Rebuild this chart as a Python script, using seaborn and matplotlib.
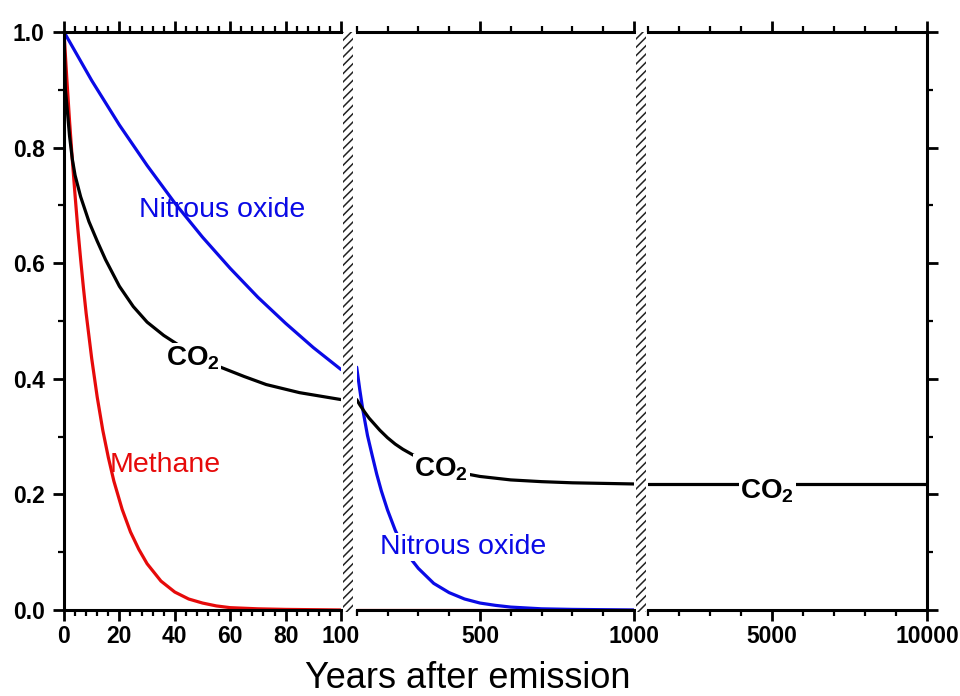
import matplotlib
matplotlib.use("Agg")
import matplotlib.pyplot as plt
import seaborn as sns
import numpy as np
from matplotlib.patches import Rectangle

# ---- data (fraction remaining vs years) ----
co2_t1 = [0, 0.5, 1, 2, 3, 4, 6, 9, 12, 15, 20, 25, 30, 36, 45, 56, 65, 73, 85, 100]
co2_v1 = [1.0, 0.90, 0.875, 0.82, 0.78, 0.752, 0.715, 0.672, 0.638, 0.606, 0.560, 0.525, 0.498, 0.475, 0.447, 0.421, 0.404, 0.390, 0.376, 0.364]
co2_t2 = [100, 110, 125, 140, 150, 175, 200, 225, 250, 300, 350, 400, 450, 500, 600, 700, 800, 900, 1000]
co2_v2 = [0.364, 0.355, 0.343, 0.332, 0.326, 0.311, 0.298, 0.287, 0.278, 0.263, 0.251, 0.243, 0.236, 0.231, 0.225, 0.222, 0.220, 0.219, 0.218]
co2_t3 = [1000, 10000]
co2_v3 = [0.218, 0.218]

ch4_t1 = [0, 1, 2, 3, 4, 5, 6, 7, 8, 10, 12, 14, 16, 18, 21, 24, 27, 30, 35, 40, 45, 50, 55, 60, 70, 80, 100]
ch4_v1 = [1.0, 0.92, 0.846, 0.779, 0.717, 0.659, 0.607, 0.558, 0.513, 0.435, 0.368, 0.311, 0.264, 0.223, 0.174, 0.135, 0.105, 0.080, 0.050, 0.031, 0.019, 0.012, 0.007, 0.004, 0.002, 0.001, 0.0]
ch4_t2 = [100, 1000]
ch4_v2 = [0.0, 0.0]

n2o_t1 = [0, 10, 20, 30, 40, 50, 60, 70, 80, 90, 100]
n2o_v1 = [1.0, 0.916, 0.839, 0.769, 0.704, 0.645, 0.591, 0.541, 0.496, 0.454, 0.416]
n2o_t2 = [100, 110, 120, 135, 150, 165, 180, 200, 225, 250, 275, 300, 350, 400, 450, 500, 550, 600, 700, 800, 1000]
n2o_v2 = [0.420, 0.381, 0.346, 0.302, 0.268, 0.235, 0.206, 0.173, 0.138, 0.111, 0.089, 0.072, 0.046, 0.030, 0.019, 0.012, 0.008, 0.005, 0.002, 0.001, 0.0]

sns.set_style("ticks")
plt.rcParams["font.family"] = ["Liberation Sans", "DejaVu Sans"]
plt.rcParams["hatch.linewidth"] = 1.1
plt.rcParams["mathtext.fontset"] = "custom"
plt.rcParams["mathtext.rm"] = "Liberation Sans"
plt.rcParams["mathtext.bf"] = "Liberation Sans:bold"

BLUE = "#0a0ae6"
RED = "#e60a0a"
LW = 2.3
SPW = 2.2

fig = plt.figure(figsize=(9.6, 6.96), dpi=100)
bottom, height = 0.1236, 0.8305
ax1 = fig.add_axes([64 / 960, bottom, 277 / 960, height])
ax2 = fig.add_axes([356.7 / 960, bottom, 277.3 / 960, height])
ax3 = fig.add_axes([648 / 960, bottom, 279 / 960, height])

sns.lineplot(x=ch4_t1, y=ch4_v1, ax=ax1, color=RED, lw=LW)
sns.lineplot(x=co2_t1, y=co2_v1, ax=ax1, color="black", lw=LW)
sns.lineplot(x=n2o_t1, y=n2o_v1, ax=ax1, color=BLUE, lw=LW)

sns.lineplot(x=ch4_t2, y=ch4_v2, ax=ax2, color=RED, lw=LW)
sns.lineplot(x=n2o_t2, y=n2o_v2, ax=ax2, color=BLUE, lw=LW)
sns.lineplot(x=co2_t2, y=co2_v2, ax=ax2, color="black", lw=LW)

sns.lineplot(x=co2_t3, y=co2_v3, ax=ax3, color="black", lw=LW)

ax1.set_xlim(0, 100)
ax2.set_xlim(100, 1000)
ax3.set_xlim(1000, 10000)

ax1.set_xticks(np.arange(0, 101, 20))
ax1.set_xticks(np.arange(0, 101, 4), minor=True)
ax2.set_xticks([500, 1000])
ax2.set_xticks(np.arange(100, 1001, 100), minor=True)
ax3.set_xticks([5000, 10000])
ax3.set_xticks(np.arange(1000, 10001, 1000), minor=True)

for ax in (ax1, ax2, ax3):
    ax.set_ylim(0, 1)
    ax.set_yticks(np.arange(0, 1.01, 0.2))
    ax.set_yticks(np.arange(0, 1.01, 0.1), minor=True)
    ax.set_xlabel("")
    ax.set_ylabel("")
    for s in ax.spines.values():
        s.set_linewidth(SPW)
        s.set_color("black")
    ax.tick_params(which="major", direction="out", length=8, width=2.0, color="black",
                   labelcolor="black", top=True, bottom=True, labelsize=16.5, pad=3)
    ax.tick_params(which="minor", direction="out", length=4.5, width=1.6, color="black",
                   top=True, bottom=True)
    ax.tick_params(axis="y", which="major", pad=6)
    ax.patch.set_alpha(0)
    for lab in ax.get_xticklabels() + ax.get_yticklabels():
        lab.set_fontweight("bold")

ax1.set_yticklabels([f"{v:.1f}" for v in np.arange(0, 1.01, 0.2)], fontweight="bold")
ax1.spines["right"].set_visible(False)
ax1.tick_params(axis="y", which="both", left=True, right=False)
ax2.spines["left"].set_visible(False)
ax2.spines["right"].set_visible(False)
ax2.tick_params(axis="y", which="both", left=False, right=False, labelleft=False)
ax3.spines["left"].set_visible(False)
ax3.tick_params(axis="y", which="both", left=False, right=True, labelleft=False)

# curve labels
bb = dict(facecolor="white", edgecolor="none", pad=1.0)
ax1.text(57, 0.692, "Nitrous oxide", color=BLUE, fontsize=20.5, ha="center", va="center")
ax1.text(36.5, 0.251, "Methane", color=RED, fontsize=20.5, ha="center", va="center")
ax1.text(46.5, 0.435, r"$\mathbf{CO_2}$", color="black", fontsize=20, ha="center", va="center", bbox=bb)
ax2.text(445, 0.109, "Nitrous oxide", color=BLUE, fontsize=20.5, ha="center", va="center", bbox=bb)
ax2.text(375, 0.243, r"$\mathbf{CO_2}$", color="black", fontsize=20, ha="center", va="center", bbox=bb)
ax3.text(4850, 0.205, r"$\mathbf{CO_2}$", color="black", fontsize=20, ha="center", va="center", bbox=bb)

# hatched break strips
for x0 in (342.5, 635.5):
    fig.add_artist(Rectangle((x0 / 960, 84 / 696), 10 / 960, 580 / 696,
                             transform=fig.transFigure, facecolor="white",
                             edgecolor="#222222", hatch="////", lw=0, zorder=5))

fig.text(468 / 960, 1 - 679 / 696, "Years after emission", ha="center", va="center",
         fontsize=26, color="black")

fig.savefig("out.png", dpi=100)
